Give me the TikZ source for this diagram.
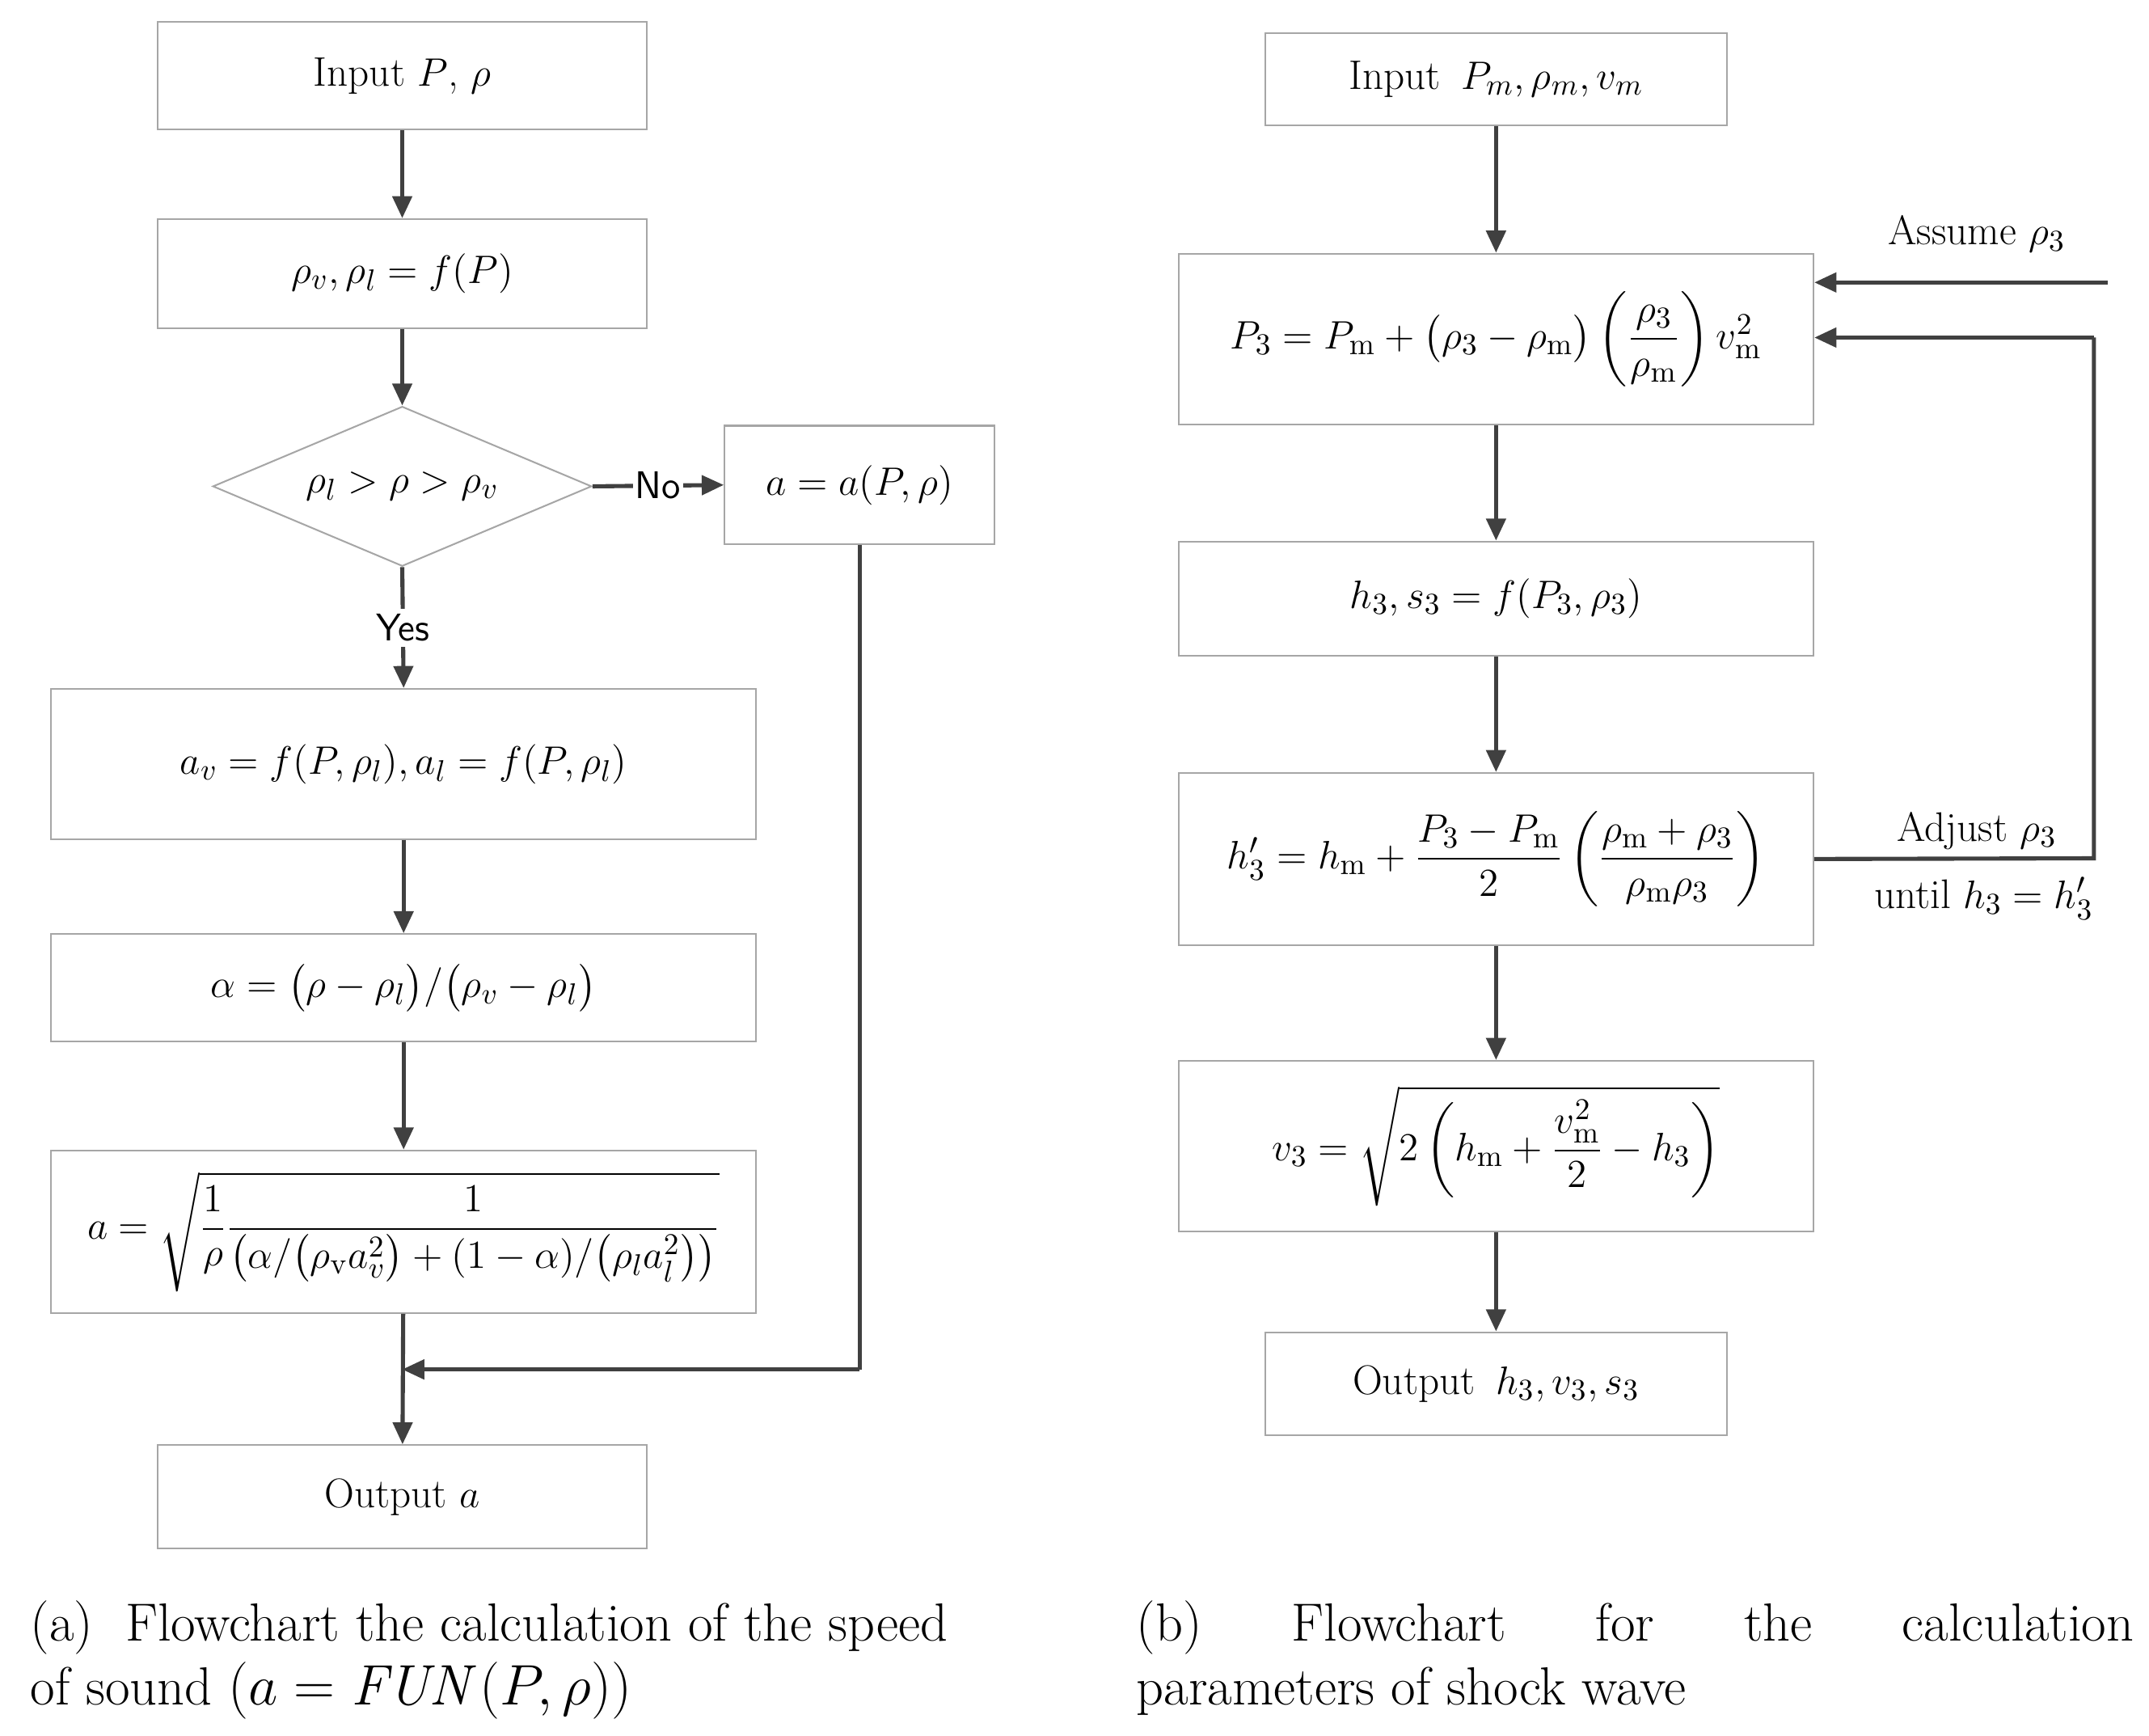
\documentclass[tikz,border=0pt]{standalone}
\usepackage{amsmath}
\usetikzlibrary{shapes.geometric,arrows.meta}
\begin{document}
\begin{tikzpicture}[x=0.5pt,y=-0.5pt,
  bx/.style={draw=gray!70,line width=0.6pt,inner sep=0pt,font=\fontsize{15}{18}\selectfont},
  ar/.style={draw=black!75,line width=1.5pt,-{Triangle[length=8pt,width=7pt]}},
  ln/.style={draw=black!75,line width=1.5pt},
  lb/.style={font=\fontsize{15}{18}\selectfont},
  captxt/.style={font=\fontsize{19.5}{23}\selectfont,anchor=north west,align=left}]
\useasboundingbox (0,0) rectangle (1560,1260);
% left
\node[bx,minimum width=177.5pt,minimum height=39pt] (a1) at (292,55) {Input $P$, $\rho$};
\node[bx,minimum width=177.5pt,minimum height=39.5pt] (a2) at (292,198.5) {$\rho_v,\rho_l=f(P)$};
\node[diamond,aspect=2.37,draw=gray!70,line width=0.6pt,inner sep=0pt,minimum width=137.5pt,minimum height=58pt,font=\fontsize{15}{18}\selectfont] (a3) at (292,353) {$\rho_l>\rho>\rho_v$};
\node[bx,minimum width=98pt,minimum height=43pt] (a3n) at (624,352) {$a=a(P,\rho)$};
\node[bx,minimum width=256pt,minimum height=54.5pt] (a4) at (293,554.5) {$a_v=f(P,\rho_l),a_l=f(P,\rho_l)$};
\node[bx,minimum width=256pt,minimum height=39pt] (a5) at (293,717) {$\alpha=\bigl(\rho-\rho_l\bigr)/\bigl(\rho_v-\rho_l\bigr)$};
\node[bx,minimum width=256pt,minimum height=59pt] (a6) at (293,894) {$a=\sqrt{\dfrac{1}{\rho}\dfrac{1}{\bigl(\alpha/\bigl(\rho_{\mathrm v}a_v^2\bigr)+(1-\alpha)/\bigl(\rho_l a_l^2\bigr)\bigr)}}$};
\node[bx,minimum width=177.5pt,minimum height=37.5pt] (a7) at (292,1086.5) {Output $a$};
\coordinate (m) at (292,994);
\coordinate (c) at (624,994);
\draw[ar] (a1) -- (a2);
\draw[ar] (a2) -- (a3);
\draw[ar] (a3.south) -- node[fill=white,font=\sffamily\fontsize{14}{16}\selectfont,inner sep=2pt]{Yes} (a4.north);
\draw[ar] (a3.east) -- node[fill=white,font=\sffamily\fontsize{14}{16}\selectfont,inner sep=1pt]{No} (a3n.west);
\draw[ar] (a4) -- (a5);
\draw[ar] (a5) -- (a6);
\draw[ar] (a6) -- (a7);
\draw[ln] (a3n.south) -- (c);
\draw[ar] (c) -- (m);
% right
\node[bx,minimum width=167.5pt,minimum height=33.5pt] (b1) at (1086,57.5) {Input\enspace $P_m,\rho_m,v_m$};
\node[bx,minimum width=230.5pt,minimum height=62pt] (b2) at (1086,246) {$P_3=P_{\mathrm m}+\bigl(\rho_3-\rho_{\mathrm m}\bigr)\left(\dfrac{\rho_3}{\rho_{\mathrm m}}\right)v_{\mathrm m}^2$};
\node[bx,minimum width=230.5pt,minimum height=41.5pt] (b3) at (1086,434.5) {$h_3,s_3=f(P_3,\rho_3)$};
\node[bx,minimum width=230.5pt,minimum height=62.5pt] (b4) at (1086,623.5) {$h_3'=h_{\mathrm m}+\dfrac{P_3-P_{\mathrm m}}{2}\left(\dfrac{\rho_{\mathrm m}+\rho_3}{\rho_{\mathrm m}\rho_3}\right)$};
\node[bx,minimum width=230.5pt,minimum height=62pt] (b5) at (1086,832) {$v_3=\sqrt{2\left(h_{\mathrm m}+\dfrac{v_{\mathrm m}^2}{2}-h_3\right)}$};
\node[bx,minimum width=167.5pt,minimum height=37.5pt] (b6) at (1086,1004.5) {Output\enspace $h_3,v_3,s_3$};
\draw[ar] (b1) -- (b2);
\draw[ar] (b2) -- (b3);
\draw[ar] (b3) -- (b4);
\draw[ar] (b4) -- (b5);
\draw[ar] (b5) -- (b6);
\coordinate (as) at (1530,205);
\draw[ar] (as) -- (b2.east |- as);
\node[lb] at (1435,170) {Assume $\rho_3$};
\coordinate (l1) at (1520,623);
\coordinate (l2) at (1520,245);
\draw[ln] (b4.east) -- (l1) -- (l2);
\draw[ar] (l2) -- (b2.east |- l2);
\node[lb] at (1435,603) {Adjust $\rho_3$};
\node[lb] at (1440,652) {until $h_3=h_3'$};
% captions
\node[captxt] at (15,1155) {(a)\ \ Flowchart the calculation of the speed\\of sound $(a=\mathit{FUN}(P,\rho))$};
\node[captxt] at (818,1155) {\hbox to 362pt{(b)\hfill Flowchart\hfill for\hfill the\hfill calculation}\\parameters of shock wave};
\end{tikzpicture}
\end{document}
